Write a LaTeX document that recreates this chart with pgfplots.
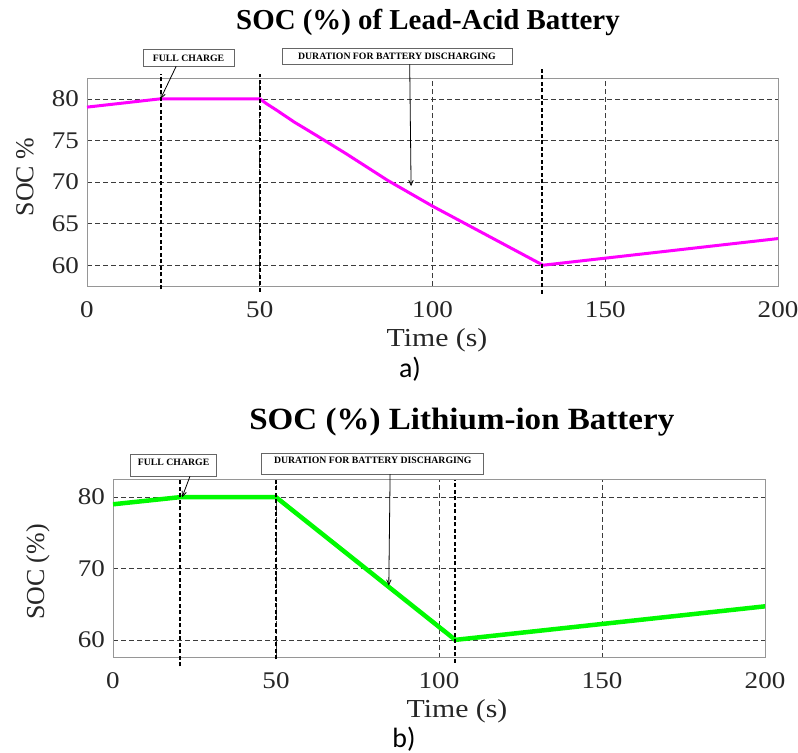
\documentclass[border=0pt]{standalone}
\usepackage{fontspec}
\setmainfont{Liberation Serif}
\newfontfamily\calib{Carlito}
\usepackage{pgfplots}
\pgfplotsset{compat=1.18}
\usetikzlibrary{arrows.meta}

\definecolor{mag}{RGB}{255,0,255}
\definecolor{grn}{RGB}{0,250,0}
\definecolor{framec}{RGB}{150,150,150}
\definecolor{gridc}{RGB}{60,60,60}

\pgfplotsset{
  socaxis/.style={
    scale only axis, xmin=0, xmax=200, ymin=57.5, ymax=82.5,
    xtick={0,50,100,150,200}, clip=false,
    axis line style={framec, line width=0.9bp},
    major tick length=0pt,
    grid=major,
    major grid style={gridc, line width=0.6bp, dash pattern=on 5bp off 3bp},
    /pgf/number format/assume math mode=true,
    tick label style={font=\fontsize{24}{24}\selectfont, text=black!85},
    xticklabel style={anchor=north, inner sep=0pt, yshift=-15bp, xscale=1.13},
    yticklabel style={anchor=east, inner sep=0pt, xshift=-8bp, xscale=1.13},
    title style={anchor=base},
    xlabel style={anchor=center, font=\fontsize{26}{26}\selectfont, text=black!85, xscale=1.15},
    ylabel style={anchor=center, font=\fontsize{26}{26}\selectfont, text=black!85},
  },
  vdash/.style={black, line width=2bp, dash pattern=on 4bp off 2.5bp},
}
\tikzset{
  annbox/.style={draw=black!60, fill=white, line width=0.7bp, inner sep=0pt,
     font=\bfseries\fontsize{9.8}{9.8}\selectfont},
  annarrow/.style={-{Straight Barb[length=5bp,width=4.5bp]}, line width=0.8bp, black},
}

\begin{document}
\begin{tikzpicture}
\path[use as bounding box] (0bp,0bp) rectangle (798bp,-753bp);

% ---------- a) Lead-Acid ----------
\begin{axis}[socaxis,
  at={(87bp,-286bp)}, anchor=south west,
  width=691bp, height=208bp,
  ytick={60,65,70,75,80},
  title={\fontsize{29}{29}\selectfont\bfseries SOC (\%) of Lead-Acid Battery},
  title style={at={(0.4935,1.2067)}},
  xlabel={Time (s)}, xlabel style={at={(0.5065,-0.2596)}},
  ylabel={SOC \%}, ylabel style={at={(-0.0897,0.524)}},
]
\addplot[mag, line width=3bp] coordinates {
  (0,79.0) (21.3,80.0) (50,80.0) (52,79.4) (55,78.6) (60,77.2) (66,75.7)
  (75,73.4) (87,70.2) (100,67.1) (132,60.0) (200,63.2)};
\addplot[vdash] coordinates {(21.3,57.1) (21.3,82.95)};
\addplot[vdash] coordinates {(50,56.8) (50,82.95)};
\addplot[vdash] coordinates {(131.8,56.55) (131.8,83.67)};
\node[annbox, minimum width=91bp, minimum height=17bp] at (axis cs:29.4,84.92) {FULL CHARGE};
\node[annbox, minimum width=230bp, minimum height=16bp] at (axis cs:89.7,85.1) {DURATION FOR BATTERY DISCHARGING};
\draw[annarrow] (axis cs:25.8,83.9) -- (axis cs:21.3,80.0);
\draw[annarrow] (axis cs:93.4,84.15) -- (axis cs:93.8,69.5);
\node[font=\calib\fontsize{28}{28}\selectfont] at (axis description cs:0.4675,-0.4) {a)};
\end{axis}

% ---------- b) Lithium-ion ----------
\begin{axis}[socaxis,
  at={(113bp,-657.7bp)}, anchor=south west,
  width=652bp, height=178.4bp,
  ytick={60,70,80},
  title={\fontsize{31}{31}\selectfont\bfseries SOC (\%) Lithium-ion Battery},
  title style={at={(0.535,1.248)}, xscale=1.07},
  xlabel={Time (s)}, xlabel style={at={(0.5276,-0.2988)}},
  ylabel={SOC (\%)}, ylabel style={at={(-0.115,0.480)}},
]
\addplot[grn, line width=4.5bp] coordinates {
  (0,79.0) (20.6,80.0) (50,80.0) (105,60.0) (200,64.7)};
\addplot[vdash] coordinates {(20.6,56.3) (20.6,82.4)};
\addplot[vdash] coordinates {(50,57.25) (50,82.4)};
\addplot[vdash] coordinates {(105,56.8) (105,82.4)};
\node[annbox, minimum width=86bp, minimum height=22bp, text depth=7bp] at (axis cs:18.6,84.39) {FULL CHARGE};
\node[annbox, minimum width=222bp, minimum height=21bp, text depth=8bp] at (axis cs:79.7,84.67) {DURATION FOR BATTERY DISCHARGING};
\draw[annarrow] (axis cs:23.6,82.9) -- (axis cs:21.2,80.0);
\draw[annarrow] (axis cs:85.0,83.2) -- (axis cs:84.6,67.6);
\node[font=\calib\fontsize{28}{28}\selectfont] at (axis description cs:0.4463,-0.455) {b)};
\end{axis}
\end{tikzpicture}
\end{document}
